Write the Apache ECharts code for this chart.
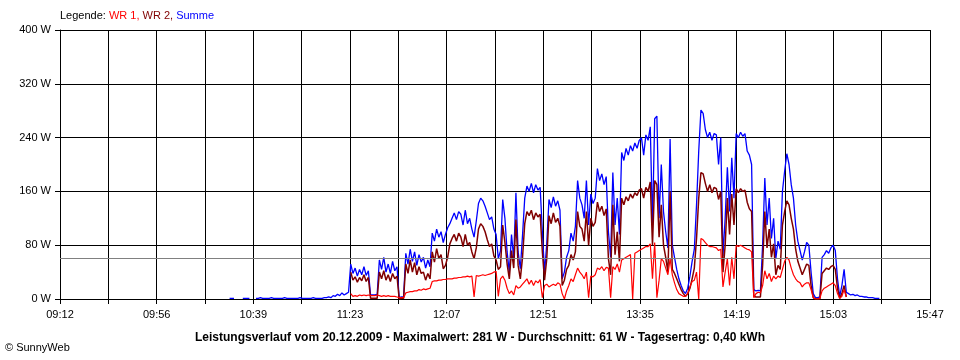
<!DOCTYPE html>
<html><head><meta charset="utf-8">
<script src="https://cdn.jsdelivr.net/npm/echarts@6/dist/echarts.min.js"></script>
<style>html,body{margin:0;padding:0;background:#fff}#c{width:960px;height:360px}</style>
</head><body><div id="c"></div>
<script>
// x axis: minutes after 09:12, 18 grid steps up to 15:47
const xTickLabels = ['09:12','09:56','10:39','11:23','12:07','12:51','13:35','14:19','15:03','15:47'];
const xSpanMinutes = 395;
const xSteps = 18;
const yMax = 400;
const yStep = 80;
const avgValue = 61;
const titleText = 'Leistungsverlauf vom 20.12.2009 - Maximalwert: 281 W - Durchschnitt: 61 W - Tagesertrag: 0,40 kWh';

// one value per minute; Summe starts at minute 77 (10:29), WR 1 / WR 2 at minute 132 (11:24)
const sumStart = 77;
const wrStart = 132;

const summe = [
  1,1,1,null,null,null,1,1,1,1,
  null,null,
  1,1,2,1,1,1,1,2,1,1,1, 1,1,2,1,1,1,1,1,1,2,1, 1,1,1,1,2,1,1,1,1,2,2,
  3,2,5,4,7,5,9,6,8,10,
  52,38,46,34,44,36,48,35,42,
  6,6,6,7,
  58,44,62,40,52,38,56,42,48,
  2,3,3,
  68,52,74,56,70,50,66,55,62,46,58,48,
  98,86,104,92,100,84,96,106,
  112,120,128,118,130,
  126,110,132,112,120,
  104,92,116,
  142,150,146,138,
  128,118,122,104,96,
  60,72,148,
  120,70,40,96,60,
  158,70,
  45,95,
  150,168,160,172,158,170,162,166,
  100,40,82,
  148,136,152,138,146,132,
  30,40,62,
  72,98,86,108,
  176,150,
  140,120,176,110,
  156,142,150,
  194,176,186,170,182,
  100,62,
  188,110,150,96,
  218,206,224,214,228,220,232,224,236,
  240,214,244,236,
  256,110,268,272,120,200,
  130,100,76,238,
  80,62,44,30,20,12,
  8,16,34,56,74,
  140,220,281,
  276,252,240,248,236,246,
  244,200,240,
  64,120,
  196,130,210,150,
  246,240,248,242,246,
  220,214,200,
  14,12,13,12,80,
  180,110,150,90,120,
  60,86,74,
  160,190,216,200,170,
  150,110,86,72,
  58,70,84,80,
  40,8,2,
  2,3,
  62,66,72,68,76,80,
  72,30,4,
  20,44,10,
  8,6,7,5,6,4,4,3,3,2,2,2,1,1,1
];

const wr2 = [
  40,28,33,25,32,27,36,26,32,
  1,1,1,1,
  40,30,42,28,36,26,38,30,34,
  0,1,1,
  52,38,58,40,54,36,48,38,40,28,38,30,
  70,55,75,60,66,45,50,62,
  82,90,96,86,98,
  92,78,96,80,84,
  70,60,76,
  104,112,108,100,
  88,78,82,64,58,
  44,48,110,
  84,52,30,72,46,
  118,50,
  30,62,
  112,130,124,132,118,128,122,126,
  70,28,60,
  124,112,128,114,120,108,
  20,28,44,
  50,66,58,70,
  130,108,
  104,86,130,80,
  120,108,114,
  144,130,138,124,134,
  60,36,
  140,66,100,56,
  150,140,152,146,156,150,158,154,162,
  164,150,166,160,
  174,80,176,170,92,140,
  80,62,40,160,
  44,38,30,22,14,8,
  4,8,16,30,46,
  90,150,188,
  186,172,160,170,158,166,
  164,148,160,
  40,80,
  150,96,156,110,
  164,158,164,160,162,
  144,134,130,
  4,3,3,3,50,
  130,76,104,62,82,
  36,50,44,
  110,130,146,140,120,
  104,74,56,46,
  36,44,52,50,
  20,2,0,
  0,0,
  38,42,46,44,48,50,
  44,16,1,
  8,20,3
];

const wr1 = [
  8,4,5,4,6,5,6,5,6,
  5,5,5,6,
  5,4,5,4,5,4,4,4,3,
  2,2,2,
  9,10,11,11,12,12,14,13,15,14,15,16,
  26,27,27,28,28,29,29,30,
  30,30,31,31,32,
  32,33,33,34,33,
  34,3,35,
  34,35,36,35,
  36,37,38,40,41,
  4,30,34,
  28,16,8,12,6,
  20,16,
  18,22,
  26,30,22,28,20,27,24,29,
  2,20,22,
  18,20,22,20,24,22,
  8,0,12,
  20,30,26,36,
  46,40,
  36,30,40,2,
  34,33,36,
  46,44,48,42,47,
  46,2,
  48,44,52,40,
  58,60,62,64,66,0,68,70,72,
  74,76,78,78,
  82,30,84,2,28,60,
  56,46,36,60,
  36,24,14,8,6,4,
  4,8,18,26,28,
  40,0,90,
  88,84,80,78,78,77,
  76,72,74,
  18,40,
  60,20,62,30,
  80,78,80,78,76,
  74,73,70,
  2,8,10,9,20,
  42,30,38,26,34,
  30,34,32,
  44,56,62,58,46,
  36,30,26,24,
  18,22,24,24,
  14,2,0,
  0,1,
  12,16,18,20,22,24,
  20,8,1,
  4,14,3
];

const FONT = 'Liberation Sans';
const xStep = xSpanMinutes / xSteps;
const toPairs = (arr, start) => arr.map((v, i) => [start + i, v]);

const chart = echarts.init(document.getElementById('c'), null, {renderer: 'canvas'});
chart.setOption({
  animation: false,
  backgroundColor: '#ffffff',
  textStyle: {fontFamily: FONT, color: '#000'},
  title: [
    {
      left: 60, top: 10, padding: 0,
      text: '{k|Legende:} {r|WR 1,} {d|WR 2,} {b|Summe}',
      textStyle: {
        fontFamily: FONT, fontSize: 11, fontWeight: 'normal',
        rich: {
          k: {color: '#000000', fontFamily: FONT, fontSize: 11},
          r: {color: '#ff0000', fontFamily: FONT, fontSize: 11},
          d: {color: '#800000', fontFamily: FONT, fontSize: 11},
          b: {color: '#0000ff', fontFamily: FONT, fontSize: 11}
        }
      }
    },
    {
      left: 'center', top: 332, padding: 0,
      text: titleText,
      textStyle: {fontFamily: FONT, fontSize: 12, fontWeight: 'bold', color: '#000'}
    },
    {
      left: 5, top: 342, padding: 0,
      text: '© SunnyWeb',
      textStyle: {fontFamily: FONT, fontSize: 11, fontWeight: 'normal', color: '#000'}
    }
  ],
  grid: {left: 60, right: 30, top: 30, bottom: 61, containLabel: false},
  xAxis: {
    type: 'value', min: 0, max: xSpanMinutes, interval: xStep, z: 3,
    axisLine: {show: true, onZero: false, lineStyle: {color: '#000', width: 1}},
    axisTick: {show: true, length: 5, lineStyle: {color: '#000', width: 1}},
    splitLine: {show: true, lineStyle: {color: '#000', width: 1}},
    axisLabel: {
      color: '#000', fontSize: 11, fontFamily: FONT, margin: 10,
      showMinLabel: true, showMaxLabel: true,
      formatter: v => {
        const k = Math.round(v / xStep);
        return k % 2 === 0 ? xTickLabels[k / 2] : '';
      }
    }
  },
  yAxis: {
    type: 'value', min: 0, max: yMax, interval: yStep, z: 3,
    axisLine: {show: true, lineStyle: {color: '#000', width: 1}},
    axisTick: {show: true, length: 5, lineStyle: {color: '#000', width: 1}},
    splitLine: {show: true, lineStyle: {color: '#000', width: 1}},
    axisLabel: {color: '#000', fontSize: 11, fontFamily: FONT, margin: 9, formatter: '{value} W'}
  },
  series: [
    {
      name: 'Summe', type: 'line', data: toPairs(summe, sumStart),
      showSymbol: false, symbol: 'none', connectNulls: false,
      lineStyle: {color: '#0000ff', width: 1.3}, itemStyle: {color: '#0000ff'}
    },
    {
      name: 'WR 2', type: 'line', data: toPairs(wr2, wrStart),
      showSymbol: false, symbol: 'none',
      lineStyle: {color: '#800000', width: 1.5}, itemStyle: {color: '#800000'}
    },
    {
      name: 'WR 1', type: 'line', data: toPairs(wr1, wrStart),
      showSymbol: false, symbol: 'none',
      lineStyle: {color: '#ff0000', width: 1.2}, itemStyle: {color: '#ff0000'},
      markLine: {
        silent: true, symbol: 'none', label: {show: false},
        lineStyle: {color: '#808080', type: 'solid', width: 1},
        data: [{yAxis: avgValue}]
      }
    }
  ]
});
</script>
</body></html>
